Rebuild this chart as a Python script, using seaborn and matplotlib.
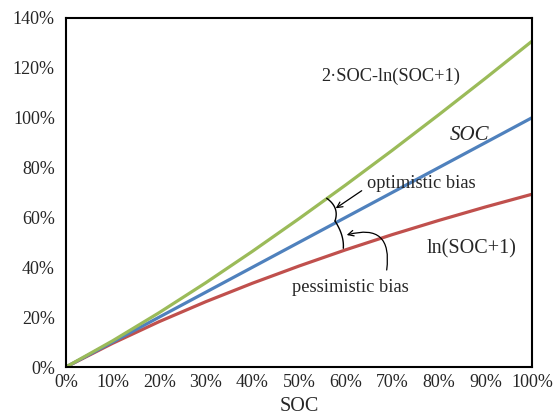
import numpy as np
import pandas as pd
import matplotlib
matplotlib.use("Agg")
import matplotlib.pyplot as plt
import seaborn as sns

soc = [0.0, 0.1, 0.2, 0.3, 0.4, 0.5, 0.6, 0.7, 0.8, 0.9, 1.0]
ln_soc = [0.0, 0.095, 0.182, 0.262, 0.336, 0.405, 0.470, 0.531, 0.588, 0.642, 0.693]
opt_soc = [0.0, 0.105, 0.218, 0.338, 0.464, 0.595, 0.730, 0.869, 1.012, 1.158, 1.307]
x_ticks = [0.0, 0.1, 0.2, 0.3, 0.4, 0.5, 0.6, 0.7, 0.8, 0.9, 1.0]
y_ticks = [0.0, 0.2, 0.4, 0.6, 0.8, 1.0, 1.2, 1.4]

df = pd.DataFrame({"SOC": soc, "lin": soc, "ln": ln_soc, "opt": opt_soc})

sns.set_style("white")
plt.rcParams["font.family"] = ["Liberation Serif", "DejaVu Serif"]

fig = plt.figure(figsize=(5.55, 4.15), dpi=100)
ax = fig.add_axes([66 / 555, 1 - 367 / 415, 466 / 555, 349 / 415])

sns.lineplot(data=df, x="SOC", y="ln", color="#C0504D", lw=2.3, ax=ax)
sns.lineplot(data=df, x="SOC", y="lin", color="#4F81BD", lw=2.3, ax=ax)
sns.lineplot(data=df, x="SOC", y="opt", color="#9BBB59", lw=2.3, ax=ax)

ax.set_xlim(0, 1)
ax.set_ylim(0, 1.4)
ax.set_xticks(x_ticks)
ax.set_yticks(y_ticks)
ax.set_xticklabels([f"{int(round(v*100))}%" for v in x_ticks], fontsize=13)
ax.set_yticklabels([f"{int(round(v*100))}%" for v in y_ticks], fontsize=13)
ax.tick_params(axis="y", direction="out", length=5, width=1.3, color="black", pad=3)
ax.tick_params(axis="x", length=0, pad=5)
ax.set_xlabel("SOC", fontsize=14.5, labelpad=4.5)
ax.set_ylabel("")
for s in ax.spines.values():
    s.set_visible(True)
    s.set_color("black")
    s.set_linewidth(1.5)

# pixel -> data helpers for annotation geometry
def pd_(px, py):
    return (px - 66) / 466.0, (367 - py) / (349.0 / 1.4)

def bez(p0, b, p2):
    p0, b, p2 = np.array(p0), np.array(b), np.array(p2)
    c = 2 * b - (p0 + p2) / 2
    t = np.linspace(0, 1, 40)[:, None]
    pts = (1 - t) ** 2 * p0 + 2 * t * (1 - t) * c + t ** 2 * p2
    return pd_(pts[:, 0], pts[:, 1])

xa, ya = bez((326.7, 198.3), (335.2, 208.5), (335.0, 221.0))
ax.plot(xa, ya, color="black", lw=1.0)
xb, yb = bez((335.0, 221.0), (341.7, 235.0), (343.3, 248.3))
ax.plot(xb, yb, color="black", lw=1.0)

ax.text(0.762, 0.737, "optimistic bias", fontsize=13.2, ha="center", va="center")
ax.annotate("", xy=pd_(335.7, 208.3), xytext=pd_(361.7, 190.7),
            arrowprops=dict(arrowstyle="->", color="black", lw=0.9,
                            shrinkA=0, shrinkB=0))
ax.text(0.610, 0.318, "pessimistic bias", fontsize=13.2, ha="center", va="center")
ax.annotate("", xy=pd_(346.7, 235.0), xytext=pd_(386.7, 270.0),
            arrowprops=dict(arrowstyle="->", color="black", lw=0.9,
                            shrinkA=0, shrinkB=0,
                            connectionstyle="arc3,rad=0.75"))
ax.text(0.870, 0.472, "ln(SOC+1)", fontsize=14.5, ha="center", va="center")
ax.text(0.865, 0.927, "SOC", fontsize=15, style="italic", ha="center", va="center")
ax.text(0.697, 1.166, "2·SOC-ln(SOC+1)", fontsize=13.2, ha="center", va="center")

fig.savefig("out.png", dpi=100)
